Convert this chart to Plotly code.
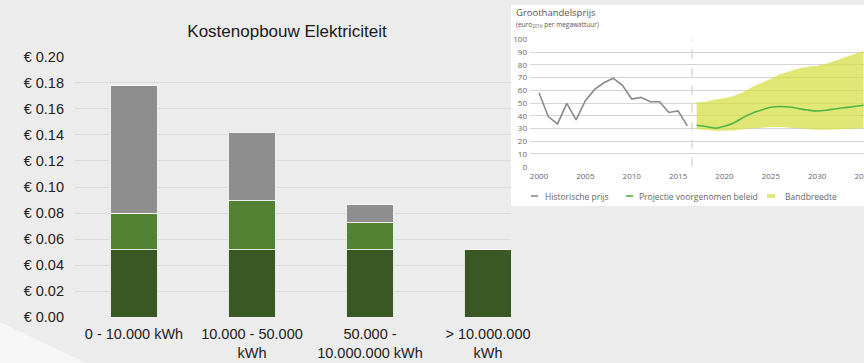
import plotly.graph_objects as go

# ---------------- data: main bar chart ----------------
categories = ["0 - 10.000 kWh", "10.000 - 50.000<br>kWh",
              "50.000 -<br>10.000.000 kWh", "> 10.000.000<br>kWh"]
base_cost = [0.052, 0.052, 0.052, 0.052]      # dark green
mid_cost = [0.0278, 0.0373, 0.0205, 0.0]      # green
top_cost = [0.098, 0.0527, 0.014, 0.0]        # grey
ytick_vals = [0.00, 0.02, 0.04, 0.06, 0.08, 0.10, 0.12, 0.14, 0.16, 0.18, 0.20]
ytick_text = ["€ 0.00", "€ 0.02", "€ 0.04", "€ 0.06", "€ 0.08", "€ 0.10",
              "€ 0.12", "€ 0.14", "€ 0.16", "€ 0.18", "€ 0.20"]

# ---------------- data: inset wholesale price chart ----------------
hist_years = list(range(2000, 2017))
hist_price = [58, 39.3, 33.6, 49.7, 36.7, 51.8, 60.7, 65.9, 69.5, 63.8,
              53.1, 54.4, 51, 51, 42.6, 43.8, 32]
proj_years = list(range(2017, 2036))
proj_price = [32.5, 31.5, 30.3, 31.8, 34.3, 38.5, 42, 44.5, 46.6, 47.3,
              46.8, 45.6, 44.5, 43.7, 44.3, 45.5, 46.4, 47.2, 48.2]
band_low = [29.3, 28.7, 28.3, 28.3, 28.5, 29.3, 30, 30.6, 31.2, 31.2,
            30.6, 29.8, 29.2, 29, 29.1, 29.4, 29.7, 30, 30.2]
band_high = [50.5, 51, 52.8, 53.8, 55.5, 58.5, 62.5, 65.5, 69, 72.5,
             75, 77, 78.5, 79.3, 80.8, 83.3, 86, 88.5, 91]
inset_xticks = [2000, 2005, 2010, 2015, 2020, 2025, 2030, 2035]
inset_yticks = [0, 10, 20, 30, 40, 50, 60, 70, 80, 90, 100]
legend_labels = ["Historische prijs", "Projectie voorgenomen beleid", "Bandbreedte"]

W, H = 864, 363
def px(x):
    return x / W
def py(y):
    return 1 - y / H

SANS = "Liberation Sans, Arial, sans-serif"
INSET = "Open Sans, Noto Sans, sans-serif"

fig = go.Figure()

line_w = dict(color="rgba(255,255,255,0.85)", width=1)
fig.add_trace(go.Bar(x=categories, y=base_cost, marker=dict(color="#3a5823", line=line_w)))
fig.add_trace(go.Bar(x=categories, y=mid_cost, marker=dict(color="#548235", line=line_w)))
fig.add_trace(go.Bar(x=categories, y=top_cost, marker=dict(color="#8e8e8e", line=line_w)))

# inset traces
fig.add_trace(go.Scatter(x=proj_years, y=band_low, mode="lines", line=dict(width=0),
                         xaxis="x2", yaxis="y2", hoverinfo="skip"))
fig.add_trace(go.Scatter(x=proj_years, y=band_high, mode="lines", line=dict(width=0),
                         fill="tonexty", fillcolor="rgba(212,222,62,0.72)",
                         xaxis="x2", yaxis="y2"))
fig.add_trace(go.Scatter(x=hist_years, y=hist_price, mode="lines",
                         line=dict(color="#8a8a8a", width=1.6), xaxis="x2", yaxis="y2"))
fig.add_trace(go.Scatter(x=proj_years, y=proj_price, mode="lines",
                         line=dict(color="#52b447", width=1.6, shape="spline", smoothing=0.6),
                         xaxis="x2", yaxis="y2"))

shapes = [
    # lighter bottom-left wedge of background
    dict(type="path", xref="paper", yref="paper",
         path=f"M 0,0 L 0,{py(322)} L {px(86)},0 Z",
         fillcolor="#f6f6f6", line=dict(width=0), layer="below"),
    # white panel of inset
    dict(type="rect", xref="paper", yref="paper", x0=px(511), x1=1.0,
         y0=py(206), y1=py(5), fillcolor="white", line=dict(width=0), layer="below"),
    # dashed separator
    dict(type="line", xref="x2", yref="y2", x0=2016.5, x1=2016.5, y0=0, y1=100,
         line=dict(color="#c4c4c4", width=1, dash="dash"), layer="below"),
    # legend swatches
    dict(type="line", xref="paper", yref="paper", x0=px(531), x1=px(538),
         y0=py(196), y1=py(196), line=dict(color="#8a8a8a", width=1.6)),
    dict(type="line", xref="paper", yref="paper", x0=px(626), x1=px(633),
         y0=py(196), y1=py(196), line=dict(color="#52b447", width=1.6)),
    dict(type="rect", xref="paper", yref="paper", x0=px(767), x1=px(775),
         y0=py(198), y1=py(194), fillcolor="#dfe778", line=dict(width=0)),
]

annotations = [
    dict(text="Groothandelsprijs", xref="paper", yref="paper", x=px(514), y=py(12.5),
         xanchor="left", yanchor="middle", showarrow=False,
         font=dict(family=INSET, size=9.5, color="#555555")),
    dict(text="(euro<sub>2016</sub> per megawattuur)", xref="paper", yref="paper",
         x=px(514), y=py(24), xanchor="left", yanchor="middle", showarrow=False,
         font=dict(family=INSET, size=6.5, color="#555555")),
]
for lbl, xx in zip(legend_labels, [543, 637, 783]):
    annotations.append(dict(text=lbl, xref="paper", yref="paper", x=px(xx), y=py(196),
                            xanchor="left", yanchor="middle", showarrow=False,
                            font=dict(family=INSET, size=8.5, color="#666666")))

fig.update_layout(
    width=W, height=H, autosize=False,
    margin=dict(l=0, r=0, t=0, b=0, pad=0, autoexpand=False),
    paper_bgcolor="#ececec", plot_bgcolor="rgba(0,0,0,0)",
    barmode="stack", bargap=0.6, showlegend=False,
    title=dict(text="Kostenopbouw Elektriciteit", x=px(287), xanchor="center",
               y=py(31), yanchor="middle", automargin=False,
               font=dict(family=SANS, size=17, color="#1a1a1a")),
    xaxis=dict(domain=[px(75), px(511)], type="category", range=[-0.5, 3.195],
               automargin=False,
               showgrid=False, zeroline=False, showline=False, ticks="",
               tickfont=dict(family=SANS, size=14.5, color="#222222"),
               ticklabelstandoff=6),
    yaxis=dict(domain=[py(317.3), py(56.7)], range=[0, 0.2], automargin=False,
               tickvals=ytick_vals, ticktext=ytick_text,
               showgrid=True, gridcolor="#dadada", gridwidth=1,
               zeroline=False, showline=False, ticks="",
               tickfont=dict(family=SANS, size=14.5, color="#222222"),
               ticklabelstandoff=10),
    xaxis2=dict(domain=[px(530), 1.0], anchor="y2", range=[1999.03, 2035.05],
                automargin=False,
                tickvals=inset_xticks, showgrid=False, zeroline=False, showline=False,
                ticks="", ticklabeloverflow="allow",
                tickfont=dict(family=INSET, size=8, color="#666666"),
                ticklabelstandoff=3),
    yaxis2=dict(domain=[py(166.7), py(39.3)], anchor="x2", range=[0, 100],
                automargin=False,
                tickvals=inset_yticks, showgrid=True, gridcolor="#d4d4d4", gridwidth=1,
                zeroline=False, showline=False, ticks="",
                tickfont=dict(family=INSET, size=8, color="#666666"),
                ticklabelstandoff=2),
    shapes=shapes, annotations=annotations,
)

fig.write_html("out.html")
